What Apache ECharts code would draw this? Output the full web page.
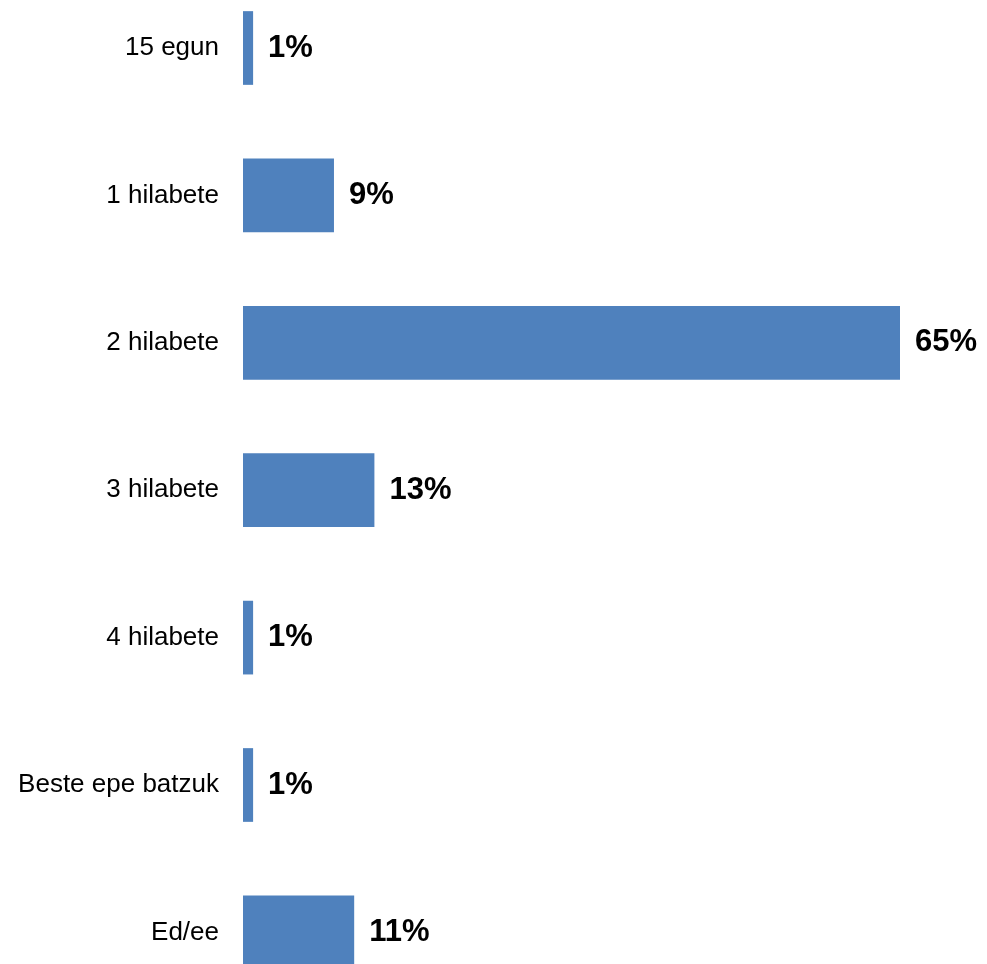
<!DOCTYPE html>
<html>
<head>
<meta charset="utf-8">
<script src="https://cdn.jsdelivr.net/npm/echarts@6/dist/echarts.min.js"></script>
<style>
  html, body { margin: 0; padding: 0; background: #ffffff; }
  #chart { width: 987px; height: 964px; }
</style>
</head>
<body>
<div id="chart"></div>
<script>
// Response shares per period (percent)
const categories = ['15 egun', '1 hilabete', '2 hilabete', '3 hilabete', '4 hilabete', 'Beste epe batzuk', 'Ed/ee'];
const values = [1, 9, 65, 13, 1, 1, 11];

const chart = echarts.init(document.getElementById('chart'), null, { renderer: 'canvas' });

chart.setOption({
  animation: false,
  backgroundColor: '#ffffff',
  grid: {
    left: 243,
    width: 657,
    top: -25.7,
    height: 1031.8,
    containLabel: false,
    outerBoundsMode: 'none'
  },
  xAxis: {
    type: 'value',
    min: 0,
    max: 65,
    show: false
  },
  yAxis: {
    type: 'category',
    data: categories,
    inverse: true,
    axisLine: { show: false },
    axisTick: { show: false },
    splitLine: { show: false },
    axisLabel: {
      margin: 24,
      color: '#000000',
      fontFamily: '"Liberation Sans", Arial, sans-serif',
      fontSize: 26,
      padding: [2, 0, 0, 0]
    }
  },
  series: [{
    type: 'bar',
    data: values,
    barCategoryGap: '50%',
    itemStyle: { color: '#4F81BD' },
    label: {
      show: true,
      position: 'right',
      distance: 15,
      formatter: p => p.value + '%',
      color: '#000000',
      fontFamily: '"Liberation Sans", Arial, sans-serif',
      fontWeight: 'bold',
      fontSize: 31,
      padding: [3, 0, 0, 0]
    }
  }]
});
</script>
</body>
</html>
